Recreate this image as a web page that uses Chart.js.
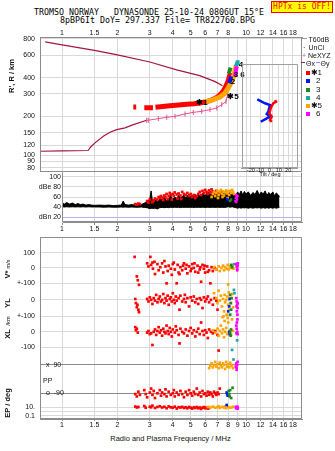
<!DOCTYPE html>
<html lang="en">
<head>
<meta charset="UTF-8">
<meta name="viewport" content="width=device-width, initial-scale=1.0">
<title>TROMSO DYNASONDE 25-10-24 0806UT</title>
<script src="https://cdn.jsdelivr.net/npm/chart.js@4.4.1/dist/chart.umd.min.js"></script>
<style>
    html, body { margin: 0; padding: 0; background: #fff; }
    #page { position: relative; width: 335px; height: 451px; overflow: hidden;
            font-family: "Liberation Sans", Arial, sans-serif; color: #111; }
    #page canvas { position: absolute; left: 0; }
    .t { position: absolute; white-space: pre; line-height: 1; transform: translate(-50%, -50%); }
    .lt { position: absolute; white-space: pre; line-height: 1; transform: translate(0, -50%); font-size: 7px; }
    .rot { position: absolute; white-space: pre; line-height: 1; transform: translate(-50%, -50%) rotate(-90deg); font-weight: bold; font-size: 7.5px; }
    .mono { font-family: "DejaVu Sans Mono", monospace; font-size: 8.3px; color: #000; }
    #hptx { position: absolute; left: 271px; top: 1px; width: 62px; height: 12px; box-sizing: border-box;
            border: 1px solid #ff0000; background: #ffff00; color: #ff0000; text-align: center;
            font-family: "DejaVu Sans Mono", monospace; font-size: 8px; line-height: 10px; }
    .sq { position: absolute; width: 4px; height: 4px; }
    .dash { position: absolute; height: 1px; width: 5px; }
</style>
</head>
<body>
<div id="page">
    <div class="t mono" style="left:149px;top:12px">TROMSO NORWAY   DYNASONDE 25-10-24 0806UT 15°E</div>
    <div class="t mono" style="left:157.5px;top:19.5px">8pBP6It DoY= 297.337 File= TR822760.BPG</div>
    <div id="hptx">HPTx is OFF!</div>

    <canvas id="cTop" width="335" height="148" style="top:24px"></canvas>
    <canvas id="cAmp" width="335" height="62" style="top:172px"></canvas>
    <canvas id="cBot" width="335" height="196" style="top:237px"></canvas>
    <canvas id="cTilt" width="70" height="116" style="top:64px;left:232px"></canvas>

    <!-- legend (right of the top panel) -->
    <div class="dash" style="left:302px;top:38px;background:#999"></div>
    <div class="lt" style="left:308.5px;top:38.5px">T60dB</div>
    <div class="lt" style="left:303px;top:47px">·</div>
    <div class="lt" style="left:308.5px;top:47px">UnCl</div>
    <div class="lt" style="left:302px;top:55px;color:#e8508c">+</div>
    <div class="lt" style="left:308px;top:55px">NeXYZ</div>
    <div class="dash" style="left:301px;top:62px;width:4px;background:#a3173f"></div>
    <div class="lt" style="left:306px;top:62.5px">Θx</div>
    <div class="dash" style="left:315.5px;top:62px;width:4px;background:#8c8cff"></div>
    <div class="lt" style="left:320.5px;top:62.5px">Θy</div>
    <div class="sq" style="left:305.5px;top:70.7px;background:#ff0000"></div>
    <div class="lt" style="left:310.5px;top:72.7px;font-size:8px">✱1</div>
    <div class="sq" style="left:305.5px;top:79px;background:#0018f0"></div>
    <div class="lt" style="left:316px;top:81px;font-size:8px">2</div>
    <div class="sq" style="left:305.5px;top:87.5px;background:#1e8a1e"></div>
    <div class="lt" style="left:316px;top:89.5px;font-size:8px">3</div>
    <div class="sq" style="left:305.5px;top:95.8px;background:#18a8a8"></div>
    <div class="lt" style="left:316px;top:97.8px;font-size:8px">4</div>
    <div class="sq" style="left:305.5px;top:104px;background:#ffa500"></div>
    <div class="lt" style="left:310.5px;top:106px;font-size:8px">✱5</div>
    <div class="sq" style="left:305.5px;top:112.3px;background:#ff00ff"></div>
    <div class="lt" style="left:316px;top:114.3px;font-size:8px">6</div>

    <!-- axis titles -->
    <div class="rot" style="left:12px;top:76px">R', R / km</div>
    <div class="rot" style="left:8px;top:269px">V* <span style="font-size:5.5px;font-weight:normal">m/s</span></div>
    <div class="rot" style="left:8px;top:303px">YL</div>
    <div class="rot" style="left:8px;top:321px;font-weight:normal;font-size:6px">/km</div>
    <div class="rot" style="left:8px;top:334px">XL</div>
    <div class="rot" style="left:8px;top:403px">EP / deg</div>
    <div class="lt" style="left:43px;top:379.5px">PP</div>
    <div class="t" style="left:170.5px;top:439px;font-size:7.5px">Radio and Plasma Frequency / MHz</div>
    <div class="t" style="left:270px;top:175px;font-size:5.5px">Tilt / deg</div>
</div>

<script>
// ---- frequency axis (shared by all panels) ----
const freqTicks = [1, 1.5, 2, 3, 4, 5, 6, 7, 8, 9, 10, 12, 14, 16, 18];
const freqLabelsTop = ['1', '1.5', '2', '3', '4', '5', '6', '7', '8', '', '10', '12', '14', '16', '18'];
const freqLabels = ['1', '1.5', '2', '3', '4', '5', '6', '7', '8', '9', '10', '12', '14', '16', '18'];

// ---- R', R panel (MHz, km) ----
const heightTicks = [80, 90, 100, 120, 150, 200, 300, 400, 600, 800];
const thetaFreq = [0.81, 1.0, 1.5, 2.0, 3.0, 4.2, 5.6, 6.8, 7.45];
const thetaKm = [761, 721, 652, 603, 530, 461, 415, 373, 346];
const profFreq = [0.759, 1.0, 1.385, 1.432, 1.511, 1.677, 1.823, 1.983, 2.2, 2.44, 2.886];
const profKm = [107.4, 108, 108.8, 116, 124.8, 140.4, 150.8, 158.2, 163, 173, 187];
const neFreq = [2.886, 2.944, 3.337, 3.707, 4.113, 4.661, 5.17, 5.743, 6.372, 6.932, 7.378, 7.786, 7.934];
const neKm = [187, 187, 192.5, 197, 200.6, 209.4, 215.4, 219.3, 226.1, 233.1, 247.2, 260.8, 295.4];
const oFreq = [2.44, 2.53, 2.6, 2.8, 3.12, 3.16, 3.22, 3.86, 4.3, 4.76, 5.2, 5.62, 6.0, 6.37, 6.65, 6.93, 7.15, 7.38, 7.55, 7.69, 7.8, 7.91, 8.0, 8.07, 8.15, 8.23];
const oKm = [237, 237, null, 234, 234, null, 236, 242.6, 245.5, 248.5, 251.5, 255, 260, 265.5, 273, 281.7, 292, 304.6, 318, 333, 348, 364, 380, 398, 417, 437];
const xFreq = [5.99, 6.64, 7.22, 7.69, 8.01, 8.36, 8.61, 8.83];
const xKm = [259.5, 270.2, 283.6, 304.6, 333, 374.6, 422, 496];
const blueFreq = [8.05, 8.2, 8.3];
const blueKm = [365, 380, 410];
const greenFreq = [8.05, 8.15, 8.25];
const greenKm = [430, 455, 480];
const magFreq = [8.7, 8.8, 8.9];
const magKm = [410, 445, 490];
const cyanFreq = [8.8, 8.95, 9.0];
const cyanKm = [490, 520, 548];
const traceTags = ['✱1', '2', '3', '6', '4', '✱5'];
const tagFreq = [5.77, 8.5, 8.83, 9.57, 9.39, 8.5];
const tagKm = [256, 372, 419, 419, 500, 287];

// ---- tilt inset (deg, km) ----
const tiltTicks = [-20, -10, 0, 10, 20];
const tiltBlueDeg = [-13.1, -8.4, -4.8, 0.5, -1.3, -3.0, 0.5, -4.8, -9.4];
const tiltBlueKm = [273.6, 262.2, 255, 247.1, 219.4, 210.6, 200.8, 191.4, 183.3];
const tiltRedDeg = [5.9, 7.0, 4.1, 2.4, 1.3, -0.2, 2.4, 0.5, 2.4];
const tiltRedKm = [270, 262, 255, 243, 233, 213, 200.8, 189.4, 183.3];

// ---- amplitude panel (MHz, dB) ----
const ampTicks = [100, 80, 60, 40, 20];
const ampLabels = ['100', 'dBe 80', '60', '40', 'dBn 20'];
const ampFreq = [1.0, 1.03, 1.06, 1.1, 1.14, 1.18, 1.22, 1.26, 1.3, 1.35,
    1.4, 1.45, 1.5, 1.6, 1.7, 1.8, 1.9, 2.0, 2.1, 2.15,
    2.2, 2.3, 2.4, 2.5, 2.6, 2.7, 2.8, 2.9, 3.0, 3.05,
    3.1, 3.2, 3.3, 3.4, 3.5, 3.6, 3.7, 3.8, 3.9, 4.0,
    4.1, 4.2, 4.3, 4.4, 4.5, 4.6, 4.7, 4.8, 4.9, 5.0,
    5.1, 5.2, 5.3, 5.4, 5.5, 5.6, 5.8, 6.0, 6.2, 6.4,
    6.6, 6.8, 7.0, 7.2, 7.4, 7.6, 7.8, 8.0, 8.2, 8.4,
    8.6, 8.8, 9.0, 9.2, 9.4, 9.6, 9.8, 10.0, 10.3, 10.6,
    10.9, 11.2, 11.5, 11.8, 12.1, 12.4, 12.7, 13.0, 13.3, 13.6,
    14.0, 14.3, 14.6, 15.0, 15.2];
const ampHi = [48, 46, 49, 46, 48, 45, 47, 45, 46, 44,
    45, 44, 43.5, 44, 43.5, 44, 43, 43.5, 44, 52,
    45, 44, 45, 44, 46, 45, 48, 50, 56, 72,
    52, 58, 50, 56, 54, 60, 52, 56, 62, 55,
    60, 57, 63, 58, 61, 64, 58, 62, 66, 60,
    64, 59, 65, 61, 66, 62, 67, 63, 70, 64,
    72, 66, 68, 63, 70, 65, 72, 64, 70, 66,
    68, 62, 70, 65, 72, 64, 71, 66, 70, 63,
    69, 65, 73, 64, 70, 66, 72, 63, 69, 65,
    70, 62, 68, 64, 60];
const ampLo = [41, 40.5, 41, 40.5, 41, 40.5, 41, 40.5, 41, 40.5,
    41, 40.5, 40.5, 40.5, 40, 40.5, 40, 40, 40.5, 40,
    40.5, 40, 40.5, 40, 40, 40.5, 39.5, 39, 37, 38,
    37.5, 38, 36.5, 39, 39.5, 39, 39.5, 39, 40, 39.5,
    40, 39.5, 40, 39, 40, 39.5, 40, 39.5, 40, 39.5,
    40, 39, 40, 39.5, 40, 39.5, 40, 39.5, 40, 39.5,
    40, 39.5, 40, 39.5, 40, 39.5, 40, 41, 40, 41,
    40, 39, 38, 39, 38, 39, 38.5, 39, 38, 39,
    38, 39, 38.5, 39, 38, 39, 38, 39, 38, 39,
    38, 39, 38, 39, 40];
const ampRed = [[2.5, 46], [2.55, 45], [2.6, 47], [2.65, 46], [2.9, 52], [2.95, 49], [3.0, 55], [3.1, 50], [3.15, 53], [3.2, 57],
    [3.3, 55], [3.35, 60], [3.4, 58], [3.45, 62], [3.5, 59], [3.55, 54], [3.6, 63], [3.65, 60], [3.7, 66], [3.75, 56],
    [3.8, 62], [3.85, 68], [3.9, 64], [3.95, 55], [4.0, 66], [4.05, 62], [4.1, 69], [4.2, 65], [4.25, 57], [4.3, 67],
    [4.4, 63], [4.45, 56], [4.5, 70], [4.6, 66], [4.7, 64], [4.8, 68], [4.9, 62], [5.0, 66], [5.1, 60], [5.2, 64],
    [5.3, 58], [5.4, 62], [5.5, 66], [5.6, 70], [5.7, 64], [5.8, 72], [5.9, 68], [6.0, 74], [6.1, 70], [6.2, 66],
    [6.3, 73], [6.4, 69], [6.5, 75], [6.6, 71], [6.75, 67], [6.9, 72], [7.1, 68], [7.3, 70]];
const ampOrange = [[6.5, 60], [6.6, 66], [6.7, 70], [6.8, 62], [6.9, 68], [7.0, 72], [7.05, 58], [7.1, 64], [7.2, 70], [7.3, 74],
    [7.4, 66], [7.45, 60], [7.5, 71], [7.6, 63], [7.7, 69], [7.8, 73], [7.9, 67], [7.95, 58], [8.0, 71], [8.1, 64],
    [8.2, 72], [8.3, 68], [8.4, 74], [8.5, 70], [8.6, 66]];
const ampBlue = [[7.9, 56], [8.0, 54]];
const ampGreen = [[8.2, 52], [8.3, 55]];
const ampMag = [[8.75, 52], [8.8, 58], [8.85, 64], [8.9, 60], [8.95, 55], [9.0, 62], [8.85, 50]];

// ---- V* panel (MHz, m/s) ----
const vRed = [[2.48, 72], [2.55, -55], [2.58, -80], [2.62, -110], [2.9, 30], [2.95, 10], [3.02, 72], [3.05, 20], [3.1, 35], [3.12, -5],
    [3.18, 40], [3.2, -40], [3.3, 25], [3.35, -15], [3.42, 5], [3.5, 30], [3.55, -30], [3.6, 45], [3.65, 10], [3.7, -100],
    [3.75, -20], [3.8, 15], [3.9, -5], [3.95, -45], [4.0, 25], [4.05, 35], [4.1, -10], [4.2, -100], [4.25, 20], [4.3, -30],
    [4.35, -40], [4.4, 5], [4.5, -15], [4.55, 15], [4.6, 30], [4.7, -5], [4.75, 20], [4.8, -35], [4.9, 10], [5.0, -20],
    [5.05, -5], [5.1, 25], [5.2, 0], [5.25, 30], [5.3, -25], [5.45, 15], [5.5, -30], [5.6, -10], [5.65, 5], [5.7, -90],
    [5.8, 20], [5.9, -5], [5.95, 15], [6.0, -30], [6.15, 10], [6.2, -25], [6.3, -15], [6.4, -100], [6.5, 5], [6.6, -20],
    [6.75, 0], [6.9, -10]];
const vOrange = [[6.7, 5], [6.9, -10], [7.1, 10], [7.2, -20], [7.35, 0], [7.5, 15], [7.6, -15], [7.7, 5], [7.85, -5], [7.95, 20],
    [8.05, -10], [8.15, 10], [8.3, 0], [8.45, 15], [8.55, -5], [8.0, -108]];
const vGreen = [[8.3, 20], [8.4, 5]];
const vCyan = [[8.6, 25]];
const vMag = [[8.85, 25], [8.9, 10], [8.95, -5], [9.0, 15], [8.95, -15], [9.02, 30]];

// ---- YL panel (MHz, km) ----
const ylRed = [[2.5, 5], [2.52, -20], [2.55, -45], [2.57, -30], [2.6, -60], [2.62, -75], [2.9, 5], [2.95, -10], [3.0, 15], [3.05, 0],
    [3.1, -25], [3.15, 10], [3.2, -5], [3.25, 30], [3.3, -15], [3.35, 5], [3.4, 20], [3.45, -10], [3.5, 0], [3.55, 35],
    [3.6, -20], [3.65, 10], [3.7, -5], [3.75, 25], [3.8, -30], [3.85, 5], [3.9, 15], [3.95, -10], [4.0, 40], [4.05, 0],
    [4.1, -20], [4.15, 20], [4.2, -5], [4.3, 10], [4.35, -60], [4.4, 25], [4.5, -10], [4.6, 5], [4.65, 30], [4.7, -15],
    [4.8, 10], [4.9, -40], [5.0, 15], [5.1, -5], [5.2, 20], [5.3, -15], [5.4, 5], [5.5, -25], [5.6, 10], [5.7, 0],
    [5.8, -50], [5.9, 15], [6.0, -10], [6.1, 5], [6.2, 20], [6.3, -15], [6.45, 0], [6.6, -30], [6.75, 10], [6.9, -5],
    [7.0, -60]];
const ylOrange = [[6.7, 40], [6.9, 10], [7.0, -20], [7.1, 55], [7.2, -5], [7.3, 25], [7.4, -40], [7.5, 5], [7.55, -100], [7.6, -70],
    [7.65, 30], [7.7, -15], [7.8, 0], [7.85, -90], [7.9, 20], [7.95, -110], [8.0, -30], [8.05, 45], [8.1, -60], [8.2, 10],
    [8.3, -20], [8.4, 35], [8.5, -45]];
const ylGreen = [[8.2, 30], [8.25, -20], [8.3, -60], [8.35, 10], [8.2, -90]];
const ylBlue = [[8.1, -40], [8.15, 5], [8.0, -70]];
const ylCyan = [[8.6, 60], [8.65, 40]];
const ylMag = [[8.85, 10], [8.88, -40], [8.9, -10], [8.92, -70], [8.95, -30], [8.98, -90], [9.0, -50], [9.02, -20]];

// ---- XL panel (MHz, km) ----
const xlRed = [[2.5, 30], [2.52, 10], [2.55, 20], [2.58, -5], [2.9, -5], [2.95, 5], [3.0, -15], [3.05, -10], [3.1, -85], [3.15, 0],
    [3.2, 15], [3.25, -20], [3.3, 5], [3.35, 30], [3.4, -5], [3.45, 10], [3.5, -25], [3.55, 20], [3.6, 0], [3.65, -10],
    [3.7, 40], [3.75, 5], [3.8, -15], [3.85, 25], [3.9, 0], [3.95, -30], [4.0, 15], [4.1, -5], [4.15, 35], [4.2, 10],
    [4.3, -20], [4.35, -75], [4.4, 20], [4.5, 0], [4.6, -10], [4.7, 15], [4.8, -25], [4.9, 5], [5.0, 25], [5.1, -10],
    [5.2, 10], [5.3, -30], [5.4, 0], [5.5, 20], [5.6, -15], [5.7, 60], [5.8, 5], [5.9, -20], [6.0, 10], [6.1, -5],
    [6.2, -40], [6.3, 15], [6.45, 0], [6.6, -10], [6.8, 5], [7.0, -20], [7.1, -121]];
const xlOrange = [[6.6, 10], [6.8, -5], [7.0, 20], [7.1, -25], [7.2, 5], [7.3, 40], [7.4, -10], [7.45, 95], [7.5, 15], [7.6, -35],
    [7.65, 70], [7.7, 0], [7.8, 25], [7.9, -15], [8.0, 60], [8.1, -5], [8.2, 10], [8.3, -20], [8.4, 80], [8.5, 5]];
const xlGreen = [[8.2, -5], [8.3, 15], [8.25, -25]];
const xlBlue = [[8.1, 0], [8.15, -15]];
const xlCyan = [[8.95, -55], [8.4, -117]];
const xlMag = [[8.85, 40], [8.88, -10], [8.9, 20], [8.92, 60], [8.95, 0], [8.98, 80], [9.0, -15]];

// ---- PP panel (MHz, deg) ----
const ppRed = [[2.5, -95], [2.55, -110], [2.6, -80], [2.65, -100], [2.8, -70], [2.85, -95], [2.9, -115], [3.0, -85], [3.05, -60], [3.1, -100],
    [3.15, -75], [3.2, -120], [3.3, -90], [3.4, -70], [3.45, -105], [3.5, -85], [3.6, -95], [3.65, -65], [3.7, -110], [3.8, -80],
    [3.9, -100], [4.0, -90], [4.05, -70], [4.1, -110], [4.2, -85], [4.3, -100], [4.4, -75], [4.5, -95], [4.6, -115], [4.7, -80],
    [4.8, -100], [4.9, -70], [5.0, -90], [5.1, -105], [5.2, -80], [5.3, -95], [5.4, -60], [5.5, -100], [5.6, -85], [5.7, -110],
    [5.8, -75], [5.9, -95], [6.0, -90], [6.1, -105], [6.2, -80], [6.3, -100], [6.4, -85], [6.5, -95], [6.6, -110], [6.7, -80],
    [6.8, -90], [6.9, -100], [7.0, -85], [7.1, -95], [7.2, -60]];
const ppOrange = [[6.3, 70], [6.4, 85], [6.5, 100], [6.6, 75], [6.7, 90], [6.8, 110], [6.9, 80], [7.0, 95], [7.1, 70], [7.2, 105],
    [7.3, 85], [7.4, 75], [7.5, 100], [7.6, 90], [7.7, 65], [7.8, 110], [7.9, 80], [8.0, 95], [8.1, 75], [8.2, 105],
    [8.3, 85], [8.4, 90], [8.5, 70]];
const ppBlue = [[7.85, -85], [7.9, -95], [7.95, -105]];
const ppGreen = [[8.05, -75], [8.1, -95], [8.15, -110], [8.2, -70], [8.3, -120], [8.45, -55]];
const ppCyan = [[8.55, 125]];
const ppMag = [[8.8, 80], [8.85, 100], [8.9, 70], [8.95, 90], [9.0, 110], [8.9, 60]];

// ---- EP panel (MHz, deg) ----
const epRed = [[2.5, 15], [2.55, 9], [2.6, 12], [2.8, 20], [2.85, 8], [3.0, 14], [3.05, 10], [3.1, 25], [3.2, 7], [3.3, 12],
    [3.4, 18], [3.5, 9], [3.6, 13], [3.7, 6], [3.8, 16], [3.9, 10], [4.0, 8], [4.1, 14], [4.2, 5], [4.3, 11],
    [4.4, 9], [4.5, 13], [4.6, 7], [4.7, 10], [4.8, 6], [4.9, 12], [5.0, 8], [5.1, 5], [5.2, 10], [5.3, 7],
    [5.4, 12], [5.5, 6], [5.6, 9], [5.7, 4], [5.8, 8], [5.9, 11], [6.0, 6], [6.1, 9], [6.2, 5], [6.3, 7]];
const epOrange = [[6.2, 12], [6.4, 9], [6.6, 15], [6.8, 8], [7.0, 11], [7.1, 18], [7.2, 7], [7.4, 13], [7.6, 9], [7.7, 16],
    [7.8, 6], [8.0, 12], [8.2, 8], [8.4, 10], [8.5, 14]];
const epBlue = [[7.85, 35]];
const epMag = [[8.8, 10], [8.85, 6], [8.9, 14], [8.95, 8], [9.0, 12], [9.02, 5]];

// ---------------------------------------------------------------
const gridCol = '#d9d9d9';
const frameCol = '#8c8c8c';
const cRed = '#ff0000', cBlue = '#0018f0', cGreen = '#1e8a1e', cCyan = '#18a8a8',
      cOrange = '#ffa500', cMag = '#ff00ff', cTheta = '#a3173f', cPink = '#e8508c';

Chart.defaults.font.family = '"Liberation Sans", Arial, sans-serif';
Chart.defaults.font.size = 7;
Chart.defaults.color = '#111';

const pts = a => a.map(([x, y]) => ({ x, y }));
const xy = (xs, ys) => xs.map((x, i) => ({ x, y: ys[i] }));

// value a sits at pixel pa, value b at pixel pb -> axis range for a plot area top..bottom
function band(a, pa, b, pb, top, bottom) {
    const k = (pb - pa) / (b - a);
    return { min: a + (bottom - pa) / k, max: a + (top - pa) / k };
}

const base = {
    responsive: false,
    animation: false,
    events: [],
    plugins: { legend: { display: false }, tooltip: { enabled: false } }
};

// all left axes share the strip left of the plot (several axes overlay one panel)
const axisBoxPlugin = {
    id: 'axisBox',
    afterLayout(chart) {
        Object.values(chart.scales).forEach(s => {
            if (s.options.position === 'left' && s.options.display !== false) {
                s.left = 0;
                s.right = chart.chartArea.left;
                s.width = s.right;
            }
        });
    }
};

// frame round the plot area
const framePlugin = {
    id: 'frame',
    afterDraw(chart, args, opts) {
        const a = chart.chartArea, ctx = chart.ctx;
        const l = Math.round(a.left) + 0.5, r = Math.round(a.right) - 0.5;
        const t = Math.round(a.top) + 0.5, b = Math.round(a.bottom) - 0.5;
        ctx.save();
        ctx.strokeStyle = opts.color || frameCol;
        ctx.lineWidth = 1;
        ctx.beginPath();
        ctx.moveTo(l, b); ctx.lineTo(l, t);
        if (opts.top !== false) ctx.lineTo(r, t); else ctx.moveTo(r, t);
        ctx.lineTo(r, b); ctx.lineTo(l, b);
        ctx.stroke();
        ctx.restore();
    }
};

// trace numbers next to the echo traces
const tagPlugin = {
    id: 'tags',
    afterDatasetsDraw(chart) {
        const { ctx, scales: { x, y } } = chart;
        ctx.save();
        ctx.font = 'bold 8px "Liberation Sans", Arial, sans-serif';
        ctx.fillStyle = '#000';
        ctx.textAlign = 'center';
        ctx.textBaseline = 'middle';
        traceTags.forEach((t, i) => ctx.fillText(t, x.getPixelForValue(tagFreq[i]), y.getPixelForValue(tagKm[i])));
        ctx.restore();
    }
};

function freqAxis(pos, labels, h, tl, min) {
    return {
        type: 'logarithmic', position: pos, bounds: 'data', min: min, max: 20.15,
        afterBuildTicks: s => { s.ticks = freqTicks.map(v => ({ value: v })); },
        afterFit: s => { s.height = h; s.paddingLeft = 0; s.paddingRight = 0; },
        ticks: { autoSkip: false, maxRotation: 0, minRotation: 0, padding: 0, color: '#111',
                 callback: (v, i) => labels[i] },
        grid: { color: gridCol, drawTicks: tl > 0, tickLength: tl, tickColor: frameCol },
        border: { color: frameCol }
    };
}

function leftAxis(type, range, vals, labels, extra = {}) {
    return Object.assign({
        type: type, position: 'left', bounds: 'data', min: range.min, max: range.max,
        afterBuildTicks: s => { s.ticks = vals.map(v => ({ value: v })); },
        afterFit: s => { s.width = 0; s.paddingTop = 0; s.paddingBottom = 0; },
        ticks: { autoSkip: false, padding: 5, color: '#111', callback: (v, i) => labels[i] },
        grid: { color: gridCol, drawTicks: false },
        border: { color: frameCol }
    }, extra);
}

const trace = (data, color, w, extra = {}) => Object.assign({
    data, borderColor: color, borderWidth: w, showLine: true, pointRadius: 0,
    tension: 0, spanGaps: false, borderCapStyle: 'butt'
}, extra);

const dots = (data, color, yAxisID, r = 1.9) => ({
    data: pts(data), yAxisID, backgroundColor: color, borderWidth: 0,
    pointStyle: 'rect', pointRadius: r, showLine: false
});

// ---- top panel: virtual / real height ----
new Chart(document.getElementById('cTop'), {
    type: 'scatter',
    data: {
        datasets: [
            trace(xy(magFreq, magKm), cMag, 4),
            trace(xy(cyanFreq, cyanKm), cCyan, 4),
            trace(xy(greenFreq, greenKm), cGreen, 4),
            trace(xy(blueFreq, blueKm), cBlue, 4),
            trace(xy(xFreq, xKm), cOrange, 5),
            trace(xy(oFreq, oKm), cRed, 5),
            trace(xy(neFreq, neKm), cPink, 1, {
                pointStyle: 'line', pointRotation: 90, pointRadius: 2.5,
                pointBorderColor: cPink, pointBorderWidth: 1
            }),
            trace(xy(profFreq, profKm), cTheta, 1.2),
            trace(xy(thetaFreq, thetaKm), cTheta, 1.2)
        ]
    },
    options: Object.assign({}, base, {
        layout: { padding: { left: 40, right: 33, top: 0, bottom: 0 }, autoPadding: false },
        scales: {
            x: freqAxis('top', freqLabelsTop, 13, 0, 0.759),
            y: leftAxis('logarithmic', { min: 74.1, max: 829 }, heightTicks, heightTicks.map(String))
        }
    }),
    plugins: [axisBoxPlugin, framePlugin, tagPlugin]
});

// ---- amplitude panel ----
new Chart(document.getElementById('cAmp'), {
    type: 'scatter',
    data: {
        datasets: [
            dots(ampMag, cMag, 'y', 1.7),
            dots(ampGreen, cGreen, 'y', 1.7),
            dots(ampBlue, cBlue, 'y', 1.7),
            dots(ampOrange, cOrange, 'y', 1.9),
            dots(ampRed, cRed, 'y', 1.9),
            trace(xy(ampFreq, ampHi), '#000', 1, { backgroundColor: '#000', fill: '+1' }),
            trace(xy(ampFreq, ampLo), '#000', 1)
        ]
    },
    options: Object.assign({}, base, {
        layout: { padding: { left: 62, right: 33, top: 0, bottom: 0 }, autoPadding: false },
        scales: {
            x: freqAxis('bottom', freqLabels, 12, 3, 1.0),
            y: leftAxis('linear', { min: 10.7, max: 109.3 }, ampTicks, ampLabels, {
                ticks: { autoSkip: false, padding: 1, color: '#111', callback: (v, i) => ampLabels[i] },
                grid: { drawTicks: false, color: c => (c.tick && c.tick.value === 20 ? '#b4b4e6' : gridCol) },
                border: { color: gridCol }
            })
        }
    }),
    plugins: [axisBoxPlugin, { id: 'frame', afterDraw: (c, a) => framePlugin.afterDraw(c, a, { top: false, color: frameCol }) }]
});

// ---- lower panel: V*, YL, XL, PP, EP ----
const T = 237, B = 419;
const rV = band(100, 252.6, -100, 283.3, T, B);
const rYL = band(100, 283.3, -100, 316.3, T, B);
const rXL = band(100, 316.3, -100, 347.3, T, B);
const rPP = band(90, 365, -90, 393.3, T, B);
const rEPlog = band(1, 407.3, -1, 415.7, T, B);
const rEP = { min: Math.pow(10, rEPlog.min), max: Math.pow(10, rEPlog.max) };

const lowerSets = [];
[
    ['yV', vMag, vCyan, vGreen, [], vOrange, vRed],
    ['yYL', ylMag, ylCyan, ylGreen, ylBlue, ylOrange, ylRed],
    ['yXL', xlMag, xlCyan, xlGreen, xlBlue, xlOrange, xlRed],
    ['yPP', ppMag, ppCyan, ppGreen, ppBlue, ppOrange, ppRed],
    ['yEP', epMag, [], [], epBlue, epOrange, epRed]
].forEach(([ax, m, c, g, b, o, r]) => {
    lowerSets.push(dots(m, cMag, ax), dots(c, cCyan, ax), dots(g, cGreen, ax),
                   dots(b, cBlue, ax), dots(o, cOrange, ax), dots(r, cRed, ax));
});

new Chart(document.getElementById('cBot'), {
    type: 'scatter',
    data: { datasets: lowerSets },
    options: Object.assign({}, base, {
        layout: { padding: { left: 40, right: 33, top: 0, bottom: 0 }, autoPadding: false },
        scales: {
            x: freqAxis('bottom', freqLabels, 14, 2, 0.759),
            yV: leftAxis('linear', rV, [100, 0, -100], ['100', '0', '+-100']),
            yYL: leftAxis('linear', rYL, [0], ['0']),
            yXL: leftAxis('linear', rXL, [100, 0, -100], ['+-100', '0', '-100']),
            yPP: leftAxis('linear', rPP, [90, -90], ['x  90', 'o  -90'], {
                ticks: { autoSkip: false, mirror: true, padding: 6, color: '#111', callback: (v, i) => ['x  90', 'o  -90'][i] },
                grid: { color: '#8a8a8a', drawTicks: false }
            }),
            yEP: leftAxis('logarithmic', rEP, [10, 1, 0.1], ['10.', '', '0.1'])
        }
    }),
    plugins: [axisBoxPlugin, framePlugin]
});

// ---- tilt inset ----
new Chart(document.getElementById('cTilt'), {
    type: 'scatter',
    data: {
        datasets: [
            trace(xy(tiltRedDeg, tiltRedKm), cRed, 2.5),
            trace(xy(tiltBlueDeg, tiltBlueKm), cBlue, 2.5)
        ]
    },
    options: Object.assign({}, base, {
        layout: { padding: { left: 9.5, right: 4.5, top: 0, bottom: 0 }, autoPadding: false },
        scales: {
            x: {
                type: 'linear', position: 'bottom', bounds: 'data', min: -30, max: 30,
                afterBuildTicks: s => { s.ticks = tiltTicks.map(v => ({ value: v })); },
                afterFit: s => { s.height = 12; s.paddingLeft = 0; s.paddingRight = 0; },
                ticks: { autoSkip: false, maxRotation: 0, padding: -1, font: { size: 5.5 }, color: '#111' },
                grid: { color: gridCol, drawTicks: false },
                border: { color: '#a0a0a0' }
            },
            y: { type: 'logarithmic', display: false, min: 80.3, max: 514 }
        }
    }),
    plugins: [{ id: 'frame', afterDraw: (c, a) => framePlugin.afterDraw(c, a, { color: '#a0a0a0' }) }]
});
</script>
</body>
</html>
